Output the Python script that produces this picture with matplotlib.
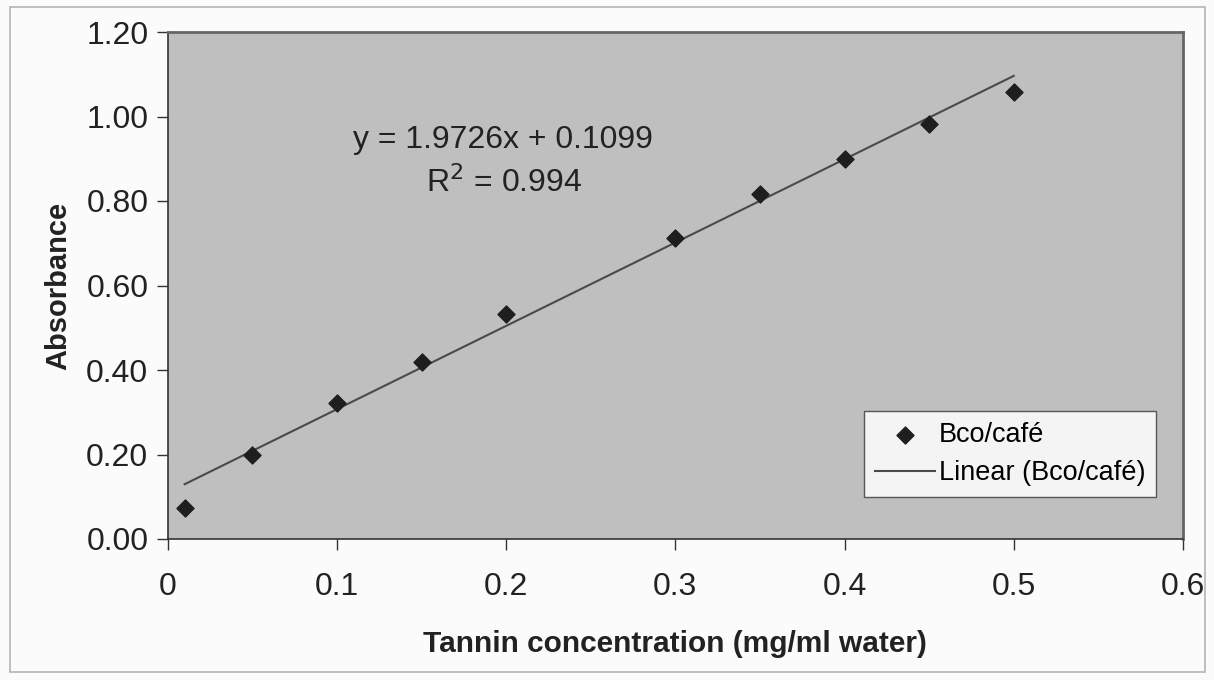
import matplotlib
matplotlib.use("Agg")
import matplotlib.pyplot as plt
import numpy as np
from matplotlib.patches import Rectangle

plt.rcParams['font.family'] = ['Liberation Sans', 'DejaVu Sans']

# Data
conc = [0.01, 0.05, 0.10, 0.15, 0.20, 0.30, 0.35, 0.40, 0.45, 0.50]
absorb = [0.074, 0.200, 0.323, 0.419, 0.533, 0.712, 0.817, 0.900, 0.982, 1.058]
slope = 1.9726
intercept = 0.1099
r2 = 0.994
x_ticks = [0, 0.1, 0.2, 0.3, 0.4, 0.5, 0.6]
y_ticks = [0.0, 0.2, 0.4, 0.6, 0.8, 1.0, 1.2]

W, H = 1214, 680
fig = plt.figure(figsize=(W / 100, H / 100), dpi=100)
fig.patch.set_facecolor('#fbfbfb')

# outer chart border
fig.patches.append(Rectangle((10 / W, 8 / H), 1195 / W, 665 / H, transform=fig.transFigure,
                             fill=False, edgecolor='#b5b5b5', linewidth=1.2))

ax = fig.add_axes([167.7 / W, (H - 539) / H, (1183 - 167.7) / W, (539 - 32) / H])
ax.set_facecolor('#bfbfbf')

ax.scatter(conc, absorb, marker='D', s=75, color='#1e1e1e', zorder=3, label='Bco/café')
xs = np.array([min(conc), max(conc)])
ax.plot(xs, slope * xs + intercept, color='#4a4a4a', linewidth=1.5, zorder=2,
        label='Linear (Bco/café)')

ax.set_xlim(0, 0.6)
ax.set_ylim(0, 1.2)
ax.set_xticks(x_ticks)
ax.set_xticklabels([f'{v:g}' for v in x_ticks])
ax.set_yticks(y_ticks)
ax.set_yticklabels([f'{v:.2f}' for v in y_ticks])
ax.tick_params(axis='both', direction='out', length=8, width=1, color='#333333',
               labelsize=23, labelcolor='#222222')
ax.tick_params(axis='x', pad=16)
ax.tick_params(axis='y', pad=6)

for side in ['left', 'bottom']:
    ax.spines[side].set_color('#333333')
    ax.spines[side].set_linewidth(1.2)
for side in ['top', 'right']:
    ax.spines[side].set_color('#666666')
    ax.spines[side].set_linewidth(2.0)

ax.set_xlabel('Tannin concentration (mg/ml water)', fontsize=21.5, fontweight='bold',
              color='#222222', labelpad=20)
ax.set_ylabel('Absorbance', fontsize=21, fontweight='bold', color='#222222', labelpad=10)

ax.text(0.198, 0.944, f'y = {slope}x + {intercept}', fontsize=23, color='#222222',
        ha='center', va='center')
ax.text(0.199, 0.843, f'R$^2$ = {r2}', fontsize=23, color='#222222',
        ha='center', va='center')

leg = ax.legend(loc='lower right', bbox_to_anchor=(0.9734, 0.083), fontsize=19.5,
                frameon=True, fancybox=False, edgecolor='#555555', facecolor='#f4f4f4',
                framealpha=1, handlelength=2.2, borderpad=0.4, labelspacing=0.45,
                handletextpad=0.15, borderaxespad=0)
leg.get_frame().set_linewidth(1.0)

fig.savefig('out.png', dpi=100, facecolor=fig.get_facecolor())
